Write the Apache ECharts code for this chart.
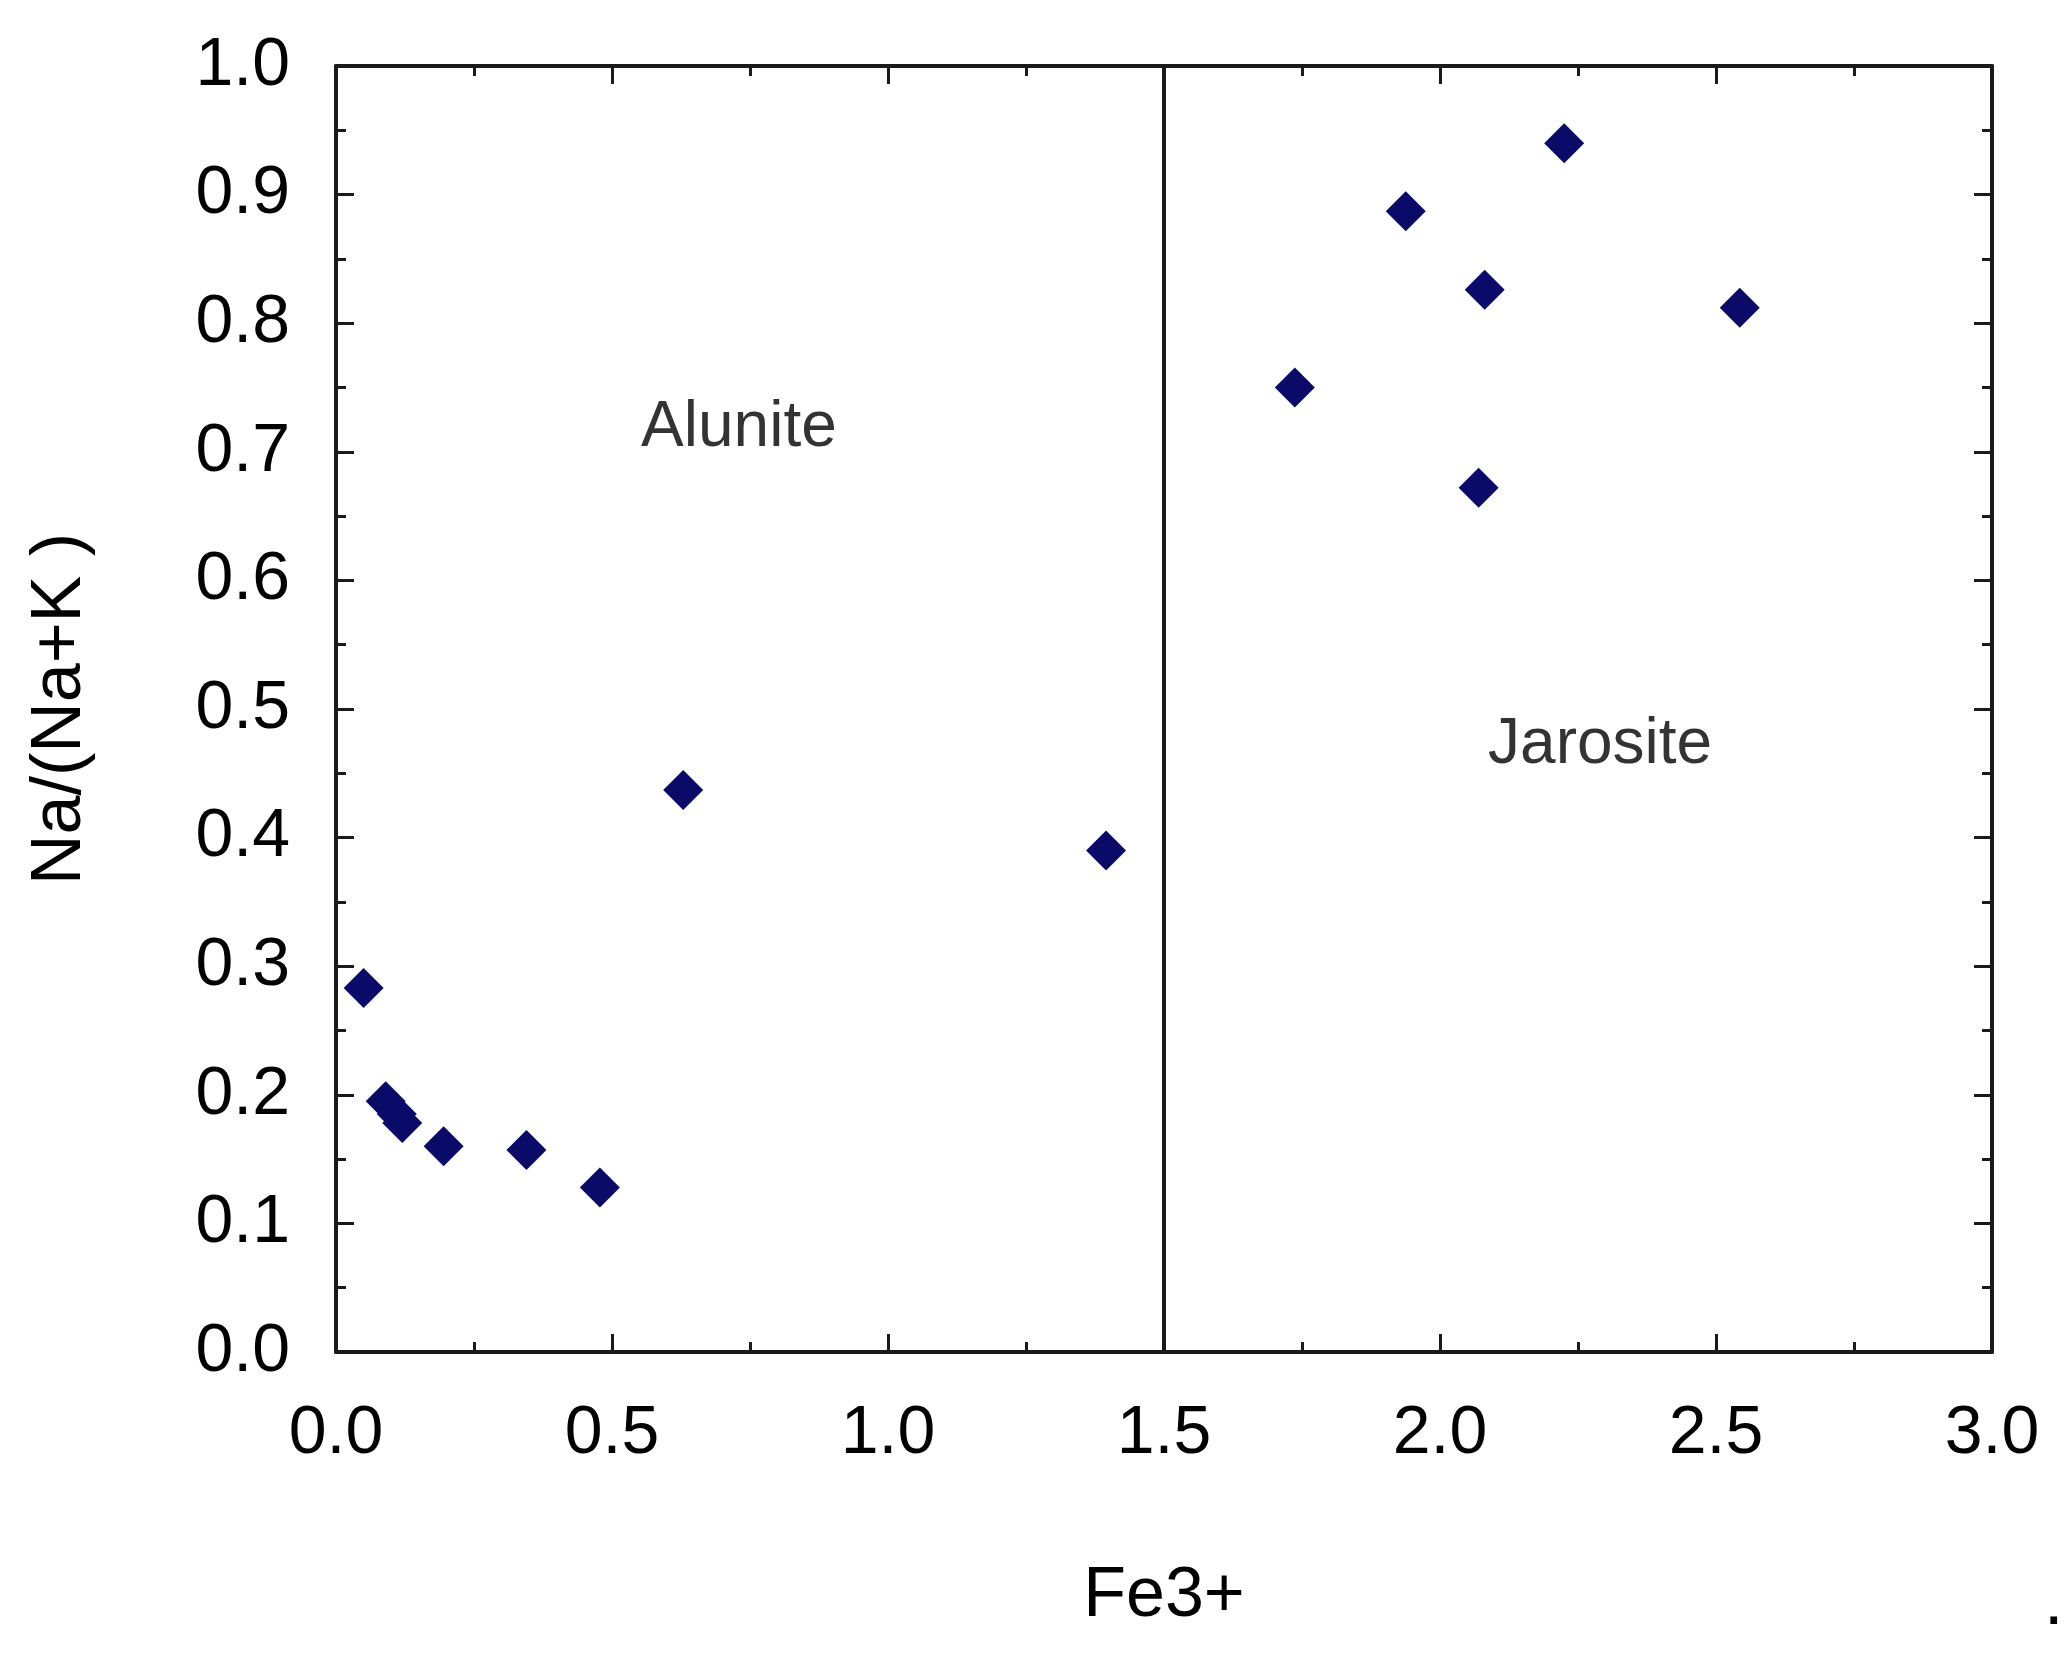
<!DOCTYPE html>
<html lang="en" style="background:#fff;height:100%">
<head>
    <meta charset="utf-8"/>
    <title>Na/(Na+K) vs Fe3+</title>
    <script src="https://cdn.jsdelivr.net/npm/echarts@6/dist/echarts.min.js"></script>
</head>
<body style="margin:0;height:100%">
<div id="chart" style="width:2068px;height:1654px"></div>
<script>
    // data
    const fe3 = [0.05, 0.09, 0.11, 0.12, 0.195, 0.345, 0.478, 0.629, 1.395, 1.737, 1.938, 2.081, 2.07, 2.225, 2.543];
    const naRatio = [0.283, 0.195, 0.185, 0.178, 0.16, 0.157, 0.128, 0.437, 0.39, 0.75, 0.887, 0.826, 0.672, 0.94, 0.812];
    const fieldNames = ['Alunite', 'Jarosite'];
    const fieldPos = [[0.73, 0.718], [2.29, 0.472]];
    const boundaryX = 1.5;

    const font = 'Liberation Sans, Arial, sans-serif';
    const axisCol = '#1a1a1a';

    const baseAxis = {
        axisLine: {onZero: false, lineStyle: {color: axisCol, width: 4}},
        axisTick: {inside: true, length: 18, lineStyle: {color: axisCol, width: 3}},
        minorTick: {show: true, splitNumber: 2, length: 10, lineStyle: {color: axisCol, width: 3}},
        splitLine: {show: false}
    };

    let chart = echarts.init(document.getElementById('chart'));
    chart.setOption({
        backgroundColor: '#fff',
        animation: false,
        grid: {left: 336, right: 76, top: 66, bottom: 302},
        xAxis: [
            Object.assign({}, baseAxis, {
                type: 'value', min: 0, max: 3, interval: 0.5, position: 'bottom',
                name: 'Fe3+', nameLocation: 'middle', nameGap: 210,
                nameTextStyle: {fontFamily: font, fontSize: 70, color: '#000'},
                axisLabel: {fontFamily: font, fontSize: 68, color: '#000', margin: 48,
                    formatter: v => v.toFixed(1)}
            }),
            Object.assign({}, baseAxis, {
                type: 'value', min: 0, max: 3, interval: 0.5, position: 'top',
                axisLabel: {show: false}
            })
        ],
        yAxis: [
            Object.assign({}, baseAxis, {
                type: 'value', min: 0, max: 1, interval: 0.1, position: 'left',
                name: 'Na/(Na+K )', nameLocation: 'middle', nameGap: 240,
                nameTextStyle: {fontFamily: font, fontSize: 70, color: '#000'},
                axisLabel: {fontFamily: font, fontSize: 68, color: '#000', margin: 46,
                    formatter: v => v.toFixed(1)}
            }),
            Object.assign({}, baseAxis, {
                type: 'value', min: 0, max: 1, interval: 0.1, position: 'right',
                axisLabel: {show: false}
            })
        ],
        series: [
            {
                type: 'scatter',
                symbol: 'diamond',
                symbolSize: 40,
                itemStyle: {color: '#0a0a68', opacity: 1},
                data: fe3.map((x, i) => [x, naRatio[i]]),
                markLine: {
                    silent: true, symbol: 'none', label: {show: false},
                    lineStyle: {color: '#1a1a1a', width: 4, type: 'solid'},
                    data: [{xAxis: boundaryX}]
                }
            },
            {
                type: 'scatter',
                symbolSize: 0,
                label: {show: true, position: 'inside', formatter: p => p.name,
                    fontFamily: font, fontSize: 64, color: '#000'},
                data: fieldNames.map((n, i) => ({name: n, value: fieldPos[i]}))
            }
        ],
        graphic: [{type: 'text', left: 2044, top: 1570,
            style: {text: '.', fontFamily: font, fontSize: 70, fill: '#000'}}]
    });
</script>
</body>
</html>
